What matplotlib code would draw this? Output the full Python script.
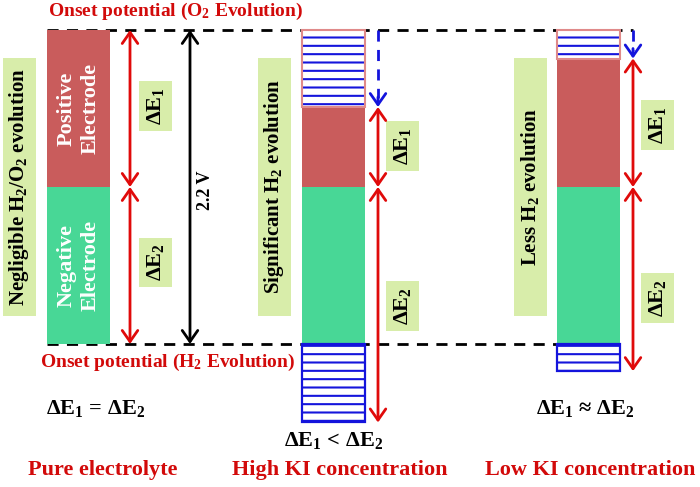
import numpy as np
import matplotlib
matplotlib.use('Agg')
import matplotlib.pyplot as plt
from matplotlib.patches import Rectangle

plt.rcParams['font.family'] = 'Liberation Serif'
plt.rcParams['font.weight'] = 'bold'
plt.rcParams['mathtext.fontset'] = 'custom'
plt.rcParams['mathtext.rm'] = 'Liberation Serif:bold'
plt.rcParams['mathtext.it'] = 'Liberation Serif:italic:bold'
plt.rcParams['mathtext.bf'] = 'Liberation Serif:bold'
plt.rcParams['hatch.linewidth'] = 1.5

# potentials in V (H2 onset = 0, O2 onset = 2.2)
cases = ['Pure electrolyte', 'High KI concentration', 'Low KI concentration']
o2_onset = 2.2
h2_onset = 0.0
win_top = [2.2, 1.66, 2.0]     # where the positive electrode actually stops
win_bot = [0.0, -0.55, -0.19]  # where the negative electrode actually stops
boundary = [1.1, 1.1, 1.1]
side_notes = ['Negligible H$_2$/O$_2$ evolution', 'Significant H$_2$ evolution', 'Less H$_2$ evolution']
relations = ['ΔE$_1$ = ΔE$_2$', 'ΔE$_1$ < ΔE$_2$', 'ΔE$_1$ ≈ ΔE$_2$']
de1_label_y = [1.668, 1.384, 1.531]
de2_label_y = [0.571, 0.266, 0.319]

# layout (pixel-like x positions)
bar_left = [47, 302, 557]
bar_w = 63
arrow_x = [130, 378, 633]
box_x = [155, 402.5, 657.5]
note_x = [19.5, 274.5, 530]
rel_x = [96, 334, 585]
rel_y = [-0.449, -0.673, -0.449]
case_x = [103, 340, 590]

red_bar = '#C95C5C'
green_bar = '#48D796'
box_col = '#D8EDAA'
red = '#E00A0A'
txt_red = '#D20A0A'
blue = '#1414DC'

fig = plt.figure(figsize=(7, 4.87), dpi=100)
ax = fig.add_axes([0, 0, 1, 1])
ax.set_xlim(0, 700)
ax.set_ylim(-1.002, 2.41)
ax.axis('off')

# onset lines
ax.plot([bar_left[0], arrow_x[2]], [o2_onset, o2_onset], color='k', lw=2, ls=(0, (4, 3)), zorder=1)
ax.plot([bar_left[0], bar_left[2]], [h2_onset, h2_onset], color='k', lw=2, ls=(0, (4, 3)), zorder=1)

def arrow2(x, y0, y1, color=red):
    ax.annotate('', xy=(x, y1), xytext=(x, y0),
                arrowprops=dict(arrowstyle='<->,head_length=0.5,head_width=0.35', color=color,
                                lw=2, shrinkA=0, shrinkB=0, mutation_scale=16), zorder=4)

for i in range(3):
    x0 = bar_left[i]
    # positive / negative electrodes
    ax.add_patch(Rectangle((x0, boundary[i]), bar_w, win_top[i] - boundary[i], fc=red_bar, ec='none', zorder=2))
    ax.add_patch(Rectangle((x0, max(win_bot[i], 0)), bar_w, boundary[i] - max(win_bot[i], 0),
                           fc=green_bar, ec='none', zorder=2))
    # lost window (hatched)
    if win_top[i] < o2_onset:
        ax.add_patch(Rectangle((x0, win_top[i]), bar_w, o2_onset - win_top[i], fc='white', ec=blue,
                               lw=0, hatch='--', zorder=2))
        ax.add_patch(Rectangle((x0, win_top[i]), bar_w, o2_onset - win_top[i], fc='none', ec='#E08A8A',
                               lw=1.5, zorder=3))
        ax.plot([arrow_x[i], arrow_x[i]], [o2_onset, win_top[i] + 0.06], color=blue, lw=2,
                ls=(0, (4, 3)), zorder=3)
        ax.annotate('', xy=(arrow_x[i], win_top[i]), xytext=(arrow_x[i], win_top[i] + 0.07),
                    arrowprops=dict(arrowstyle='->,head_length=0.5,head_width=0.35', color=blue,
                                    lw=2, shrinkA=0, shrinkB=0, mutation_scale=16), zorder=4)
    if win_bot[i] < h2_onset:
        ax.add_patch(Rectangle((x0, win_bot[i]), bar_w, h2_onset - win_bot[i], fc='white', ec=blue,
                               lw=0, hatch='--', zorder=2))
        ax.add_patch(Rectangle((x0, win_bot[i]), bar_w, h2_onset - win_bot[i], fc='none', ec=blue,
                               lw=1.6, zorder=3))

    # delta E arrows
    arrow2(arrow_x[i], win_top[i], boundary[i])
    arrow2(arrow_x[i], boundary[i], win_bot[i])

    # delta E labels
    bw, bh = 33, 0.35
    for yc, lab in [(de1_label_y[i], 'ΔE$_1$'), (de2_label_y[i], 'ΔE$_2$')]:
        ax.add_patch(Rectangle((box_x[i] - bw / 2, yc - bh / 2), bw, bh, fc=box_col, ec='none', zorder=2))
        ax.text(box_x[i], yc, lab, rotation=90, ha='center', va='center', fontsize=16, zorder=5)

    # side notes
    ax.add_patch(Rectangle((note_x[i] - 16.5, 0.196), 33, 1.808, fc=box_col, ec='none', zorder=2))
    ax.text(note_x[i], 1.10, side_notes[i], rotation=90, ha='center', va='center', fontsize=15, zorder=5)

    ax.text(rel_x[i], rel_y[i], relations[i], ha='center', va='center', fontsize=16)
    ax.text(case_x[i], -0.883, cases[i], ha='center', va='center', fontsize=16, color=txt_red)

# electrode names in the pure electrolyte bar
ax.text(bar_left[0] + bar_w / 2, 1.65, 'Positive\nElectrode', rotation=90, ha='center', va='center',
        fontsize=16, color='white', linespacing=1.3, zorder=5)
ax.text(bar_left[0] + bar_w / 2, 0.55, 'Negative\nElectrode', rotation=90, ha='center', va='center',
        fontsize=16, color='white', linespacing=1.3, zorder=5)

# full window
ax.annotate('', xy=(190, h2_onset), xytext=(190, o2_onset),
            arrowprops=dict(arrowstyle='<->,head_length=0.5,head_width=0.35', color='k',
                            lw=2, shrinkA=0, shrinkB=0, mutation_scale=16), zorder=4)
ax.text(206, 1.079, '2.2 V', rotation=90, ha='center', va='center', fontsize=13)

ax.text(176, 2.327, 'Onset potential (O$_2$ Evolution)', ha='center', va='center', fontsize=14, color=txt_red)
ax.text(168, -0.126, 'Onset potential (H$_2$ Evolution)', ha='center', va='center', fontsize=14, color=txt_red)

fig.savefig('out.png', dpi=100)
